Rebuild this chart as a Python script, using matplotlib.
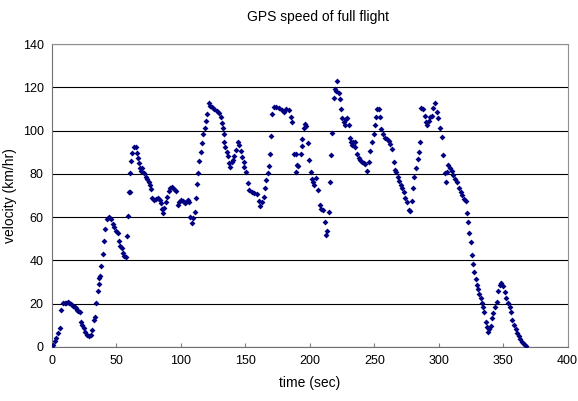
import matplotlib
matplotlib.use("Agg")
import matplotlib.pyplot as plt

# GPS samples
time_sec = [
    0.8, 2.0, 3.3, 4.6, 6.0, 6.7, 8.5, 10.0, 11.2, 12.4, 13.5, 15.0, 16.2,
    17.5, 18.6, 19.6, 20.5, 21.4, 22.2, 23.4, 24.7, 25.8, 27.3, 28.6, 29.9,
    31.2, 32.2, 33.0, 34.3, 35.5, 36.3, 36.8, 37.6, 38.1, 39.4, 40.2, 41.2,
    42.7, 44.0, 45.8, 47.1, 48.4, 49.7, 51.0, 51.8, 53.1, 54.1, 55.4, 56.2,
    57.2, 58.2, 59.2, 59.7, 60.3, 60.8, 61.6, 62.3, 63.4, 64.9, 65.9, 66.7,
    67.5, 68.0, 68.8, 70.1, 71.1, 72.6, 73.6, 74.9, 75.7, 77.0, 77.8, 78.8,
    80.3, 82.2, 83.5, 84.8, 85.5, 86.3, 87.1, 88.1, 89.4, 90.6, 91.7, 93.0,
    94.3, 95.8, 97.6, 98.4, 99.7, 101.5, 102.8, 104.1, 105.3, 106.6, 107.4,
    108.4, 109.7, 111.0, 111.8, 112.6, 113.6, 114.4, 115.7, 116.4, 117.5,
    118.5, 119.5, 120.5, 121.6, 122.8, 124.1, 125.9, 127.7, 129.8, 131.1,
    131.9, 132.4, 133.1, 133.7, 134.4, 135.5, 136.2, 137.5, 138.3, 139.3,
    140.6, 141.4, 142.7, 144.0, 145.3, 146.6, 147.3, 148.6, 149.1, 150.4,
    151.7, 153.0, 155.1, 156.9, 158.7, 160.2, 161.5, 162.8, 164.1, 165.4,
    166.4, 167.2, 168.0, 169.0, 170.0, 171.0, 172.3, 174.1, 176.1, 178.2,
    180.0, 181.8, 183.9, 185.2, 186.0, 187.8, 189.1, 189.6, 190.3, 191.1,
    192.9, 193.7, 194.2, 195.5, 196.3, 197.3, 198.6, 199.4, 200.6, 201.4,
    202.4, 203.2, 204.5, 206.3, 207.6, 208.8, 210.4, 211.4, 212.7, 213.5,
    214.6, 215.3, 216.1, 217.4, 218.7, 219.5, 220.5, 221.2, 222.5, 223.3,
    224.3, 225.1, 226.4, 227.1, 228.1, 228.9, 230.2, 231.0, 231.8, 232.8,
    233.6, 234.9, 235.4, 236.7, 238.0, 239.3, 240.6, 241.9, 243.2, 244.4,
    245.7, 247.0, 248.3, 249.6, 250.4, 251.4, 252.2, 253.4, 254.2, 255.5,
    256.5, 258.0, 259.8, 261.1, 262.4, 263.7, 265.0, 265.8, 266.8, 268.3,
    269.4, 270.4, 271.4, 272.7, 274.0, 275.3, 276.6, 277.9, 279.2, 280.0,
    281.1, 282.3, 283.6, 284.4, 285.2, 286.5, 287.8, 289.1, 290.0, 291.1,
    292.1, 293.4, 294.6, 295.9, 297.2, 298.4, 299.7, 301.1, 302.3, 303.6,
    304.9, 305.7, 306.2, 307.5, 308.8, 310.0, 311.3, 312.7, 313.9, 316.0,
    317.3, 318.3, 319.9, 320.9, 321.7, 322.4, 323.5, 324.8, 325.6, 326.9,
    327.7, 328.7, 329.7, 330.7, 331.5, 332.5, 333.3, 334.1, 335.4, 336.5,
    337.3, 338.6, 339.3, 340.6, 341.6, 342.4, 343.7, 344.9, 346.2, 347.5,
    348.7, 350.0, 351.3, 352.5, 353.9, 355.2, 356.0, 357.0, 358.3, 359.6,
    360.8, 362.1, 363.4, 364.7, 366.3, 367.6,
]
velocity = [
    1.0, 2.5, 4.0, 6.3, 8.8, 17.0, 20.5, 20.5, 20.5, 20.6, 20.3, 19.6, 19.0,
    18.6, 17.8, 17.1, 16.5, 15.9, 11.7, 10.2, 8.6, 7.1, 5.5, 4.8, 5.5,
    7.8, 12.4, 14.0, 20.5, 26.0, 29.0, 31.7, 33.0, 37.4, 43.0, 49.0, 54.4,
    59.0, 60.0, 59.0, 56.7, 55.6, 53.6, 52.8, 49.0, 46.6, 45.9, 43.5, 42.0,
    41.5, 51.4, 60.6, 71.7, 71.8, 80.5, 86.0, 89.5, 92.6, 92.6, 89.5, 87.2,
    84.9, 82.6, 81.3, 82.6, 80.3, 78.7, 77.6, 76.4, 74.9, 73.0, 68.7, 67.9,
    68.4, 68.7, 67.9, 66.4, 63.8, 61.8, 64.4, 67.1, 69.5, 72.1, 73.6, 74.1,
    73.0, 72.1, 65.6, 66.9, 67.9, 67.5, 66.4, 66.9, 67.9, 66.9, 60.2,
    57.2, 59.5, 62.5, 68.7, 75.2, 80.3, 86.0, 90.2, 94.1, 98.3,
    101.3, 104.4, 107.5, 112.6, 111.5, 110.8, 110.0, 109.1, 108.0, 106.4,
    103.4, 101.1, 98.3, 94.9, 92.6, 90.2, 88.4, 84.9, 83.3, 85.3,
    86.4, 88.4, 91.0, 94.9, 93.3, 90.6, 87.9, 85.3, 83.3, 80.7,
    75.6, 72.5, 71.5, 71.0, 70.6, 67.5, 65.3, 66.9, 69.5, 73.3,
    77.2, 80.3, 83.8, 89.0, 97.6, 107.5, 111.0, 111.0, 110.6, 109.5,
    108.7, 110.0, 109.3, 106.4, 103.8, 89.0, 81.0, 89.0, 84.1, 83.8,
    89.0, 93.0, 96.1, 101.1, 102.9, 102.3, 94.1, 86.4, 80.7, 77.6,
    76.1, 74.9, 78.2, 72.5, 65.6, 63.8, 63.3, 57.9, 51.8, 53.7,
    62.2, 76.1, 88.7, 98.7, 115.2, 119.2, 118.3, 122.9, 117.2, 114.6,
    110.0, 105.7, 103.8, 102.6, 105.4, 106.0, 102.6, 96.4, 94.6, 93.3,
    94.9, 94.6, 92.6, 89.0, 87.5, 86.4, 85.6, 84.9, 84.6, 81.3,
    85.3, 90.6, 94.8, 98.3, 102.5, 106.2, 110.0, 110.0, 106.4, 100.7,
    98.3, 96.4, 96.1, 95.2, 93.7, 91.5, 85.3, 81.8, 80.7, 78.7,
    76.7, 74.9, 73.6, 71.5, 69.0, 66.9, 63.3, 62.8, 67.5, 73.6,
    78.7, 82.9, 86.9, 90.2, 94.6, 110.6, 110.0, 106.9, 103.8, 102.6,
    104.4, 106.4, 106.9, 110.3, 112.6, 108.7, 105.7, 101.3, 97.2, 88.7,
    80.3, 76.1, 80.7, 84.1, 82.9, 81.3, 79.5, 77.8, 76.4, 73.3,
    71.8, 70.2, 68.3, 67.6, 61.8, 57.9, 52.8, 48.7, 42.5, 38.4,
    34.8, 31.3, 28.7, 26.7, 24.5, 22.5, 20.2, 18.3, 15.9, 11.7,
    9.1, 7.1, 8.2, 9.7, 13.3, 15.6, 18.3, 20.9, 26.0, 28.7,
    29.7, 28.2, 25.6, 22.5, 20.2, 18.6, 15.9, 12.5, 10.2, 8.2,
    6.3, 5.1, 3.6, 2.4, 1.4, 0.6,
]

x_ticks = [0, 50, 100, 150, 200, 250, 300, 350, 400]
y_ticks = [0, 20, 40, 60, 80, 100, 120, 140]

plt.rcParams["font.family"] = ["Liberation Sans", "DejaVu Sans"]

fig = plt.figure(figsize=(5.78, 4.01), dpi=100)
ax = fig.add_axes([0.090, 0.135, 0.892, 0.755])

ax.scatter(time_sec, velocity, marker="D", s=9, color="#000080",
           linewidths=0, zorder=3)

ax.set_xlim(0, 400)
ax.set_ylim(0, 140)
ax.set_xticks(x_ticks)
ax.set_yticks(y_ticks)
ax.tick_params(axis="x", direction="in", length=3, labelsize=9, pad=6,
               color="#808080")
ax.tick_params(axis="y", length=0, labelsize=9, pad=6)

ax.yaxis.grid(True, color="black", linewidth=0.8)
ax.set_axisbelow(True)
for side in ["top", "right"]:
    ax.spines[side].set_color("#909090")
for side in ["left", "bottom"]:
    ax.spines[side].set_color("#707070")

ax.set_xlabel("time (sec)", fontsize=10, labelpad=6)
ax.set_ylabel("velocity (km/hr)", fontsize=10)
ax.yaxis.set_label_coords(-0.068, 0.5)
fig.suptitle("GPS speed of full flight", fontsize=10, y=0.975, x=0.55)

fig.savefig("out.png", dpi=100)
